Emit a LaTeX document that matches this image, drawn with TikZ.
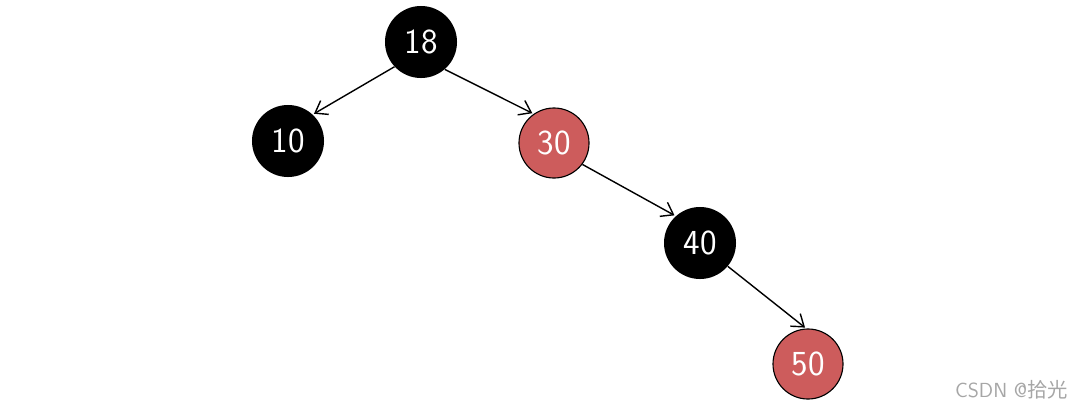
\documentclass[tikz,border=0pt]{standalone}
\usepackage{fontspec}
\newfontfamily\cjk{Noto Sans CJK SC}
\usetikzlibrary{arrows.meta, positioning}
\definecolor{rbred}{RGB}{205,92,92}

\begin{document}
\begin{tikzpicture}[x=0.025cm, y=-0.025cm,
  BK/.style={circle, fill=black, text=white, minimum size=1.8cm, inner sep=0pt,
             font=\sffamily\fontsize{25}{29}\selectfont},
  RD/.style={circle, draw=black, thick, fill=rbred, text=white, minimum size=1.75cm, inner sep=0pt,
             font=\sffamily\fontsize{25}{29}\selectfont},
  AR/.style={-{Straight Barb[length=2.8mm,width=4mm]}, line width=1pt, shorten >=1pt}
]
  \useasboundingbox (0,0) rectangle (1084,409);
  \node[BK] (n18) at (421,42)  {18};
  \node[BK] (n10) at (288,141) {10};
  \node[RD] (n30) at (554,143) {30};
  \node[BK] (n40) at (700,243) {40};
  \node[RD] (n50) at (808,364) {50};

  \draw[AR] (n18.-137) -- (n10.47);
  \draw[AR] (n18.-49)  -- (n30.125);
  \draw[AR] (n30.-37)  -- (n40.132);
  \draw[AR] (n40.-40)  -- (n50.93);

  \node[anchor=east, text=black!35, font=\sffamily\fontsize{14.5}{16}\selectfont] (wm) at (1073,390)
    {CSDN @{\cjk 拾光}};
\end{tikzpicture}
\end{document}
